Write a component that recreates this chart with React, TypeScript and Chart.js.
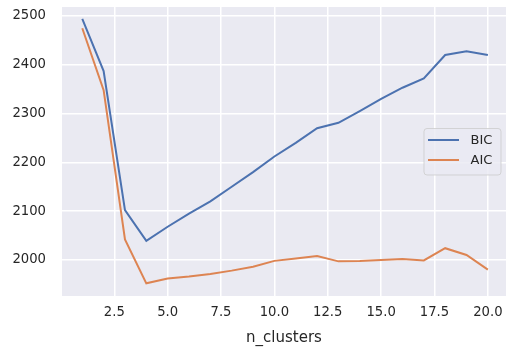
import React, { useEffect, useRef } from "react";
import { Chart, registerables } from "chart.js";

Chart.register(...registerables);

const nClusters = [1, 2, 3, 4, 5, 6, 7, 8, 9, 10, 11, 12, 13, 14, 15, 16, 17, 18, 19, 20];
const bicValues = [2494, 2387, 2102, 2039, 2068, 2095, 2120, 2150, 2180, 2212, 2240, 2270, 2281, 2305, 2330, 2353, 2372, 2420, 2428, 2420];
const aicValues = [2475, 2348, 2042, 1952, 1962, 1966, 1971, 1978, 1986, 1998, 2003, 2008, 1997, 1998, 2000, 2002, 1999, 2024, 2010, 1980];
const xTicks = [2.5, 5, 7.5, 10, 12.5, 15, 17.5, 20];
const yTicks = [2000, 2100, 2200, 2300, 2400, 2500];
const seriesLabels = ["BIC", "AIC"];
const seriesColors = ["#4C72B0", "#DD8452"];

const FONT = "'DejaVu Sans', sans-serif";

const bgPlugin = {
  id: "axbg",
  beforeDraw(chart: any) {
    const { ctx, chartArea } = chart;
    ctx.save();
    ctx.fillStyle = "#EAEAF2";
    ctx.fillRect(chartArea.left, chartArea.top, chartArea.right - chartArea.left, chartArea.bottom - chartArea.top);
    ctx.restore();
  },
};

const legendPlugin = {
  id: "mplLegend",
  afterDraw(chart: any) {
    const { ctx } = chart;
    const x0 = 424, y0 = 128.5, w = 77, h = 46.5, r = 3;
    ctx.save();
    ctx.globalAlpha = 0.8;
    ctx.fillStyle = "#EAEAF2";
    ctx.strokeStyle = "#CCCCCC";
    ctx.lineWidth = 1;
    ctx.beginPath();
    ctx.roundRect(x0, y0, w, h, r);
    ctx.fill();
    ctx.stroke();
    ctx.globalAlpha = 1;
    chart.data.datasets.forEach((ds: any, i: number) => {
      const cy = 140 + i * 20;
      ctx.strokeStyle = ds.borderColor;
      ctx.lineWidth = 2;
      ctx.beginPath();
      ctx.moveTo(428, cy);
      ctx.lineTo(459, cy);
      ctx.stroke();
      ctx.fillStyle = "#262626";
      ctx.font = `13px ${FONT}`;
      ctx.textBaseline = "middle";
      ctx.textAlign = "left";
      ctx.fillText(ds.label, 470.5, cy + 0.5);
    });
    ctx.restore();
  },
};

const zeroPad = (s: any) => {
  s.paddingLeft = 0;
  s.paddingRight = 0;
  s.paddingTop = 0;
  s.paddingBottom = 0;
};

export default function App() {
  const ref = useRef<HTMLCanvasElement>(null);
  useEffect(() => {
    document.body.style.margin = "0";
    const canvas = ref.current!;
    const chart = new Chart(canvas, {
      type: "line",
      data: {
        datasets: [bicValues, aicValues].map((vals, i) => ({
          label: seriesLabels[i],
          data: nClusters.map((n, j) => ({ x: n, y: vals[j] })),
          borderColor: seriesColors[i],
          backgroundColor: seriesColors[i],
          borderWidth: 2,
          pointRadius: 0,
          tension: 0,
        })),
      },
      options: {
        animation: false,
        responsive: false,
        devicePixelRatio: 1,
        layout: { padding: { top: 7, left: 0, right: 0, bottom: 0 } },
        plugins: { legend: { display: false }, tooltip: { enabled: false } },
        scales: {
          x: {
            type: "linear",
            min: 0.05,
            max: 20.85,
            afterBuildTicks: (s: any) => { s.ticks = xTicks.map((v) => ({ value: v })); },
            afterFit: (s: any) => { s.height = 51; zeroPad(s); },
            grid: { color: "#FFFFFF", lineWidth: 1.5, drawTicks: false },
            border: { display: false },
            ticks: {
              padding: 9,
              color: "#262626",
              font: { family: FONT, size: 13.2 },
              callback: (v: any) => Number(v).toFixed(1),
              maxRotation: 0,
              autoSkip: false,
            },
            title: {
              display: true,
              text: "n_clusters",
              color: "#262626",
              font: { family: FONT, size: 15 },
              padding: { top: 0, bottom: 0 },
            },
          },
          y: {
            type: "linear",
            min: 1926,
            max: 2518.5,
            afterBuildTicks: (s: any) => { s.ticks = yTicks.map((v) => ({ value: v })); },
            afterFit: (s: any) => { s.width = 62; zeroPad(s); },
            grid: { color: "#FFFFFF", lineWidth: 1.5, drawTicks: false },
            border: { display: false },
            ticks: {
              padding: 16,
              color: "#262626",
              font: { family: FONT, size: 13.2 },
              callback: (v: any) => String(v),
              autoSkip: false,
            },
          },
        },
      },
      plugins: [bgPlugin, legendPlugin],
    });
    return () => chart.destroy();
  }, []);
  return <canvas ref={ref} width={506} height={347} style={{ display: "block" }} />;
}
